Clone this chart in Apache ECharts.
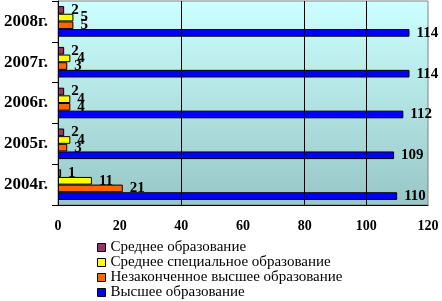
<!DOCTYPE html>
<html><head><meta charset="utf-8">
<script src="https://cdn.jsdelivr.net/npm/echarts@6/dist/echarts.min.js"></script>
<style>html,body{margin:0;padding:0;background:#fff}#c{width:442px;height:301px}</style>
</head><body><div id="c"></div>
<script>
const categories = ['2004г.', '2005г.', '2006г.', '2007г.', '2008г.'];
const seriesNames = ['Среднее образование', 'Среднее специальное образование', 'Незаконченное высшее образование', 'Высшее образование'];
const srednee = [1, 2, 2, 2, 2];
const sredneeSpec = [11, 4, 4, 4, 5];
const nezakonch = [21, 3, 4, 3, 5];
const vysshee = [110, 109, 112, 114, 114];
const xTicks = [0, 20, 40, 60, 80, 100, 120];
const gridValues = [40, 80, 100];

const colors = ['#993366', '#FFFF00', '#FF6600', '#0000FF'];
const font = 'Liberation Serif';
const labelStyle = {show: true, position: 'right', distance: 7, color: '#000', fontFamily: font, fontWeight: 'bold', fontSize: 15};
function bar(name, data, color) {
  return {name, type: 'bar', data, z: 3, barGap: '0%', barCategoryGap: '25%',
    itemStyle: {color, borderColor: '#000', borderWidth: 1}, label: labelStyle};
}
const chart = echarts.init(document.getElementById('c'));
chart.setOption({
  animation: false,
  grid: {left: 58, right: 14, top: 1, bottom: 96, show: true, borderColor: '#808080', borderWidth: 1,
    backgroundColor: new echarts.graphic.LinearGradient(0, 0, 0, 1, [{offset: 0, color: '#CCFFFF'}, {offset: 1, color: '#98C6C6'}])},
  xAxis: {type: 'value', min: xTicks[0], max: xTicks[xTicks.length - 1], interval: 20,
    axisLine: {show: true, lineStyle: {color: '#000'}}, axisTick: {show: false}, splitLine: {show: false},
    axisLabel: {color: '#000', fontFamily: font, fontWeight: 'bold', fontSize: 14, margin: 14}},
  yAxis: {type: 'category', data: categories,
    axisLine: {show: true, lineStyle: {color: '#000'}}, axisTick: {show: true, length: 6, lineStyle: {color: '#000'}},
    axisLabel: {color: '#000', fontFamily: font, fontWeight: 'bold', fontSize: 17, margin: 10}},
  legend: {orient: 'vertical', left: 97, top: 240, padding: 0, itemWidth: 8, itemHeight: 8, itemGap: 0,
    data: seriesNames.map((n, i) => ({name: n, icon: 'rect', itemStyle: {color: colors[i], borderColor: '#000', borderWidth: 1}})),
    textStyle: {color: '#000', fontFamily: font, fontSize: 15, lineHeight: 15}},
  series: [
    {type: 'line', data: [], z: 1, markLine: {silent: true, symbol: 'none', label: {show: false},
      lineStyle: {color: '#000', type: 'solid', width: 1}, data: gridValues.map(v => ({xAxis: v}))}},
    bar(seriesNames[0], srednee, colors[0]),
    bar(seriesNames[1], sredneeSpec, colors[1]),
    bar(seriesNames[2], nezakonch, colors[2]),
    bar(seriesNames[3], vysshee, colors[3])
  ]
});
</script></body></html>
